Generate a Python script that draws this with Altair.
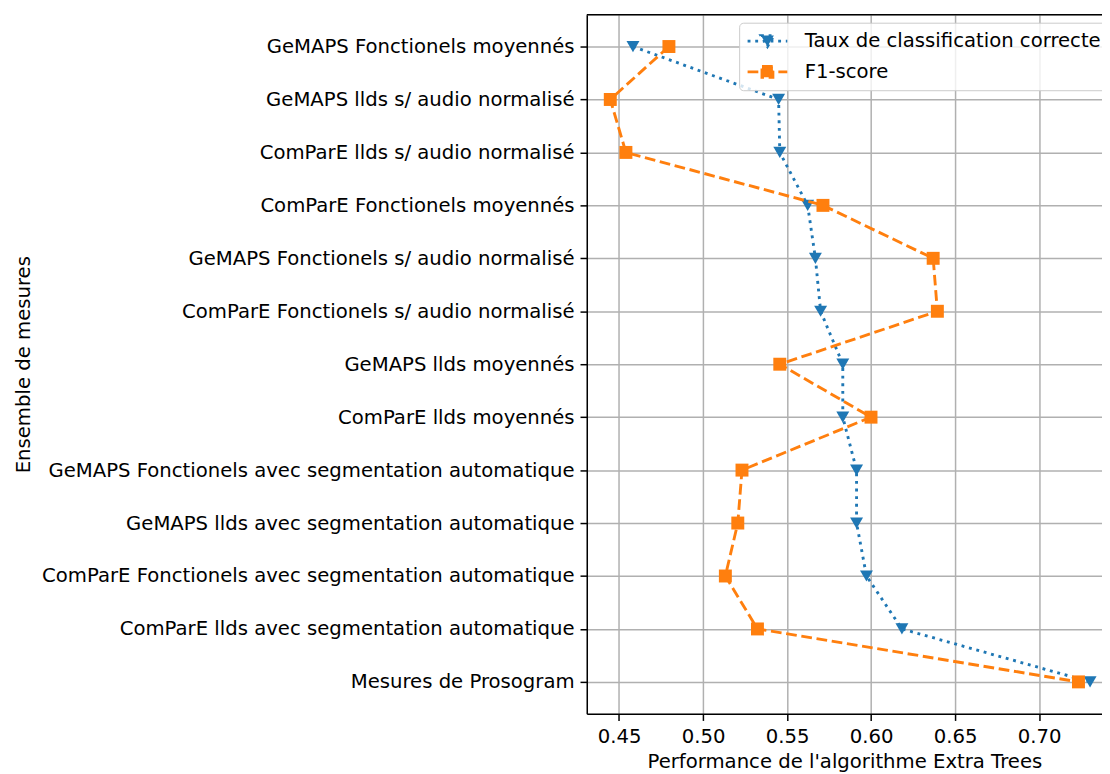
import altair as alt
import pandas as pd

# ---- data (top to bottom) ----
mesures = [
    "GeMAPS Fonctionels moyennés",
    "GeMAPS llds s/ audio normalisé",
    "ComParE llds s/ audio normalisé",
    "ComParE Fonctionels moyennés",
    "GeMAPS Fonctionels s/ audio normalisé",
    "ComParE Fonctionels s/ audio normalisé",
    "GeMAPS llds moyennés",
    "ComParE llds moyennés",
    "GeMAPS Fonctionels avec segmentation automatique",
    "GeMAPS llds avec segmentation automatique",
    "ComParE Fonctionels avec segmentation automatique",
    "ComParE llds avec segmentation automatique",
    "Mesures de Prosogram",
]
taux = [0.4583, 0.5450, 0.5457, 0.5623, 0.5669, 0.5700, 0.5832,
        0.5832, 0.5914, 0.5914, 0.5973, 0.6184, 0.7304]
f1 = [0.4797, 0.4448, 0.4541, 0.5714, 0.6370, 0.6395, 0.5457,
      0.6000, 0.5232, 0.5207, 0.5133, 0.5324, 0.7235]
series = ["Taux de classification correcte", "F1-score"]
couleurs = ["#1f77b4", "#ff7f0e"]
x_ticks = [0.45, 0.50, 0.55, 0.60, 0.65, 0.70]

rows = []
for i, m in enumerate(mesures):
    rows.append({"mesure": m, "idx": i, "serie": series[0], "valeur": taux[i]})
    rows.append({"mesure": m, "idx": i, "serie": series[1], "valeur": f1[i]})
df = pd.DataFrame(rows)

FONT = "DejaVu Sans"
FS = 19.8
W, H = 519, 704
LW = 2.9
GRID = "#b0b0b0"
DASH_DOT = [2.9, 4.8]
DASH_LONG = [10.8, 4.7]

x_enc = alt.X(
    "valeur:Q",
    scale=alt.Scale(domain=[0.4308, 0.7375], nice=False, zero=False),
    axis=alt.Axis(
        values=x_ticks, format=".2f",
        title="Performance de l'algorithme Extra Trees",
        grid=True, gridColor=GRID, gridWidth=1.5, gridOpacity=1,
        tickColor="black", tickSize=6.8, tickWidth=1.5,
        domainColor="black", domainWidth=1.5,
        labelFont=FONT, labelFontSize=FS, labelColor="black", labelPadding=6,
        titleFont=FONT, titleFontSize=FS, titleColor="black",
        titleFontWeight="normal", titlePadding=6, labelFlush=False,
    ),
)
y_enc = alt.Y(
    "mesure:N", sort=mesures,
    scale=alt.Scale(type="point", padding=0.6),
    axis=alt.Axis(
        title="Ensemble de mesures",
        grid=True, gridColor=GRID, gridWidth=1.5, gridOpacity=1,
        tickColor="black", tickSize=6.8, tickWidth=1.5,
        domainColor="black", domainWidth=1.5,
        labelFont=FONT, labelFontSize=FS, labelColor="black", labelPadding=6,
        labelLimit=2000,
        titleFont=FONT, titleFontSize=FS, titleColor="black",
        titleFontWeight="normal", titleX=-561, titleY=H / 2,
        titleAngle=270, titleAlign="center", titleBaseline="alphabetic",
    ),
)

color_scale = alt.Scale(domain=series, range=couleurs)

# legend symbols: line segment + marker (custom SVG paths, unit = 10 px)
tri_path = "M-2,0H2M-0.65,-0.55L0.65,-0.55L0,0.55Z"
sq_path = "M-2,0H2M-0.55,-0.55H0.55V0.55H-0.55Z"

base = alt.Chart(df).encode(x=x_enc, y=y_enc)

dashes = {series[0]: DASH_DOT, series[1]: DASH_LONG}
shapes = {series[0]: "triangle-down", series[1]: "square"}

layers = []
for k, s in enumerate(series):
    line = base.transform_filter(alt.datum.serie == s).mark_line(
        strokeWidth=LW, strokeDash=dashes[s], strokeCap="butt", color=couleurs[k]
    ).encode(order=alt.Order("idx:Q"))
    pts = base.transform_filter(alt.datum.serie == s).mark_point(
        shape=shapes[s], filled=True, size=170, opacity=1, strokeWidth=0,
        color=couleurs[k],
    )
    layers += [line, pts]

legend = alt.Legend(
    title=None, orient="none", legendX=153.5, legendY=8,
    labelFont=FONT, labelFontSize=FS, labelColor="black", labelLimit=1000,
    symbolSize=400, symbolStrokeWidth=LW, symbolOffset=10, labelOffset=26,
    rowPadding=8, padding=7, symbolOpacity=1,
    fillColor="rgba(255,255,255,0.8)", strokeColor="#cccccc",
    cornerRadius=4,
)

# empty layer that only carries the legend
legend_layer = base.transform_filter("datum.idx < 0").mark_point(
    filled=True, strokeWidth=LW, opacity=1
).encode(
    color=alt.Color("serie:N", scale=color_scale, legend=legend),
    stroke=alt.Stroke("serie:N", scale=color_scale, legend=legend),
    shape=alt.Shape("serie:N", scale=alt.Scale(domain=series, range=[tri_path, sq_path]), legend=legend),
    strokeDash=alt.StrokeDash("serie:N", scale=alt.Scale(domain=series, range=[DASH_DOT, DASH_LONG]), legend=legend),
)

frame_top = alt.Chart(pd.DataFrame({"a": [0]})).mark_rule(
    color="black", strokeWidth=1.5
).encode(x=alt.value(0), x2=alt.value(W), y=alt.value(0))

chart = alt.layer(*layers, legend_layer, frame_top).properties(
    width=W, height=H,
    autosize=alt.AutoSizeParams(type="none"),
    padding={"left": 583, "top": 4, "right": 0, "bottom": 62},
).configure_view(stroke=None).configure(font=FONT, background="white")

chart.save("out.html", embed_options={"renderer": "svg", "actions": False})
